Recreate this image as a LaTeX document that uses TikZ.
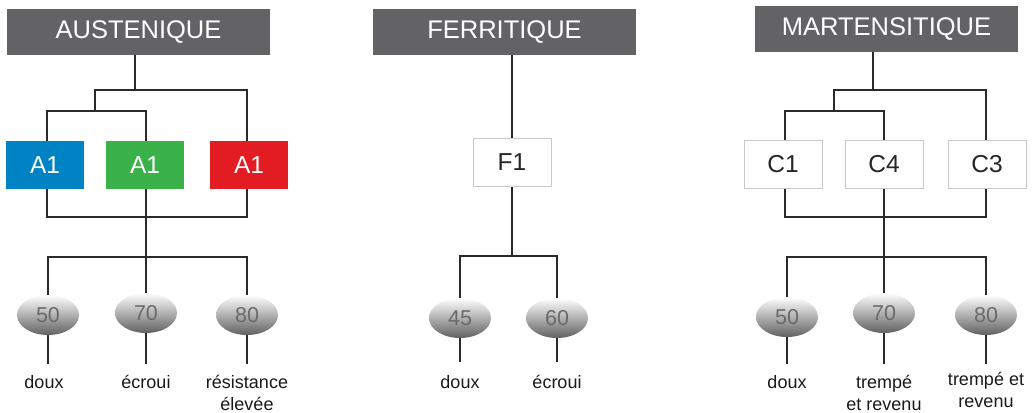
\documentclass[tikz,border=0pt]{standalone}
\usepackage{fontspec}
\setmainfont{Liberation Sans}
\usetikzlibrary{shapes.geometric}
\definecolor{hdr}{HTML}{636264}
\definecolor{blu}{HTML}{0083C4}
\definecolor{grn}{HTML}{3BB14A}
\definecolor{rd}{HTML}{E31B23}
\definecolor{bord}{HTML}{C8C8C8}
\definecolor{ln}{HTML}{2A2A2A}
\definecolor{num}{HTML}{6A6A6A}
\begin{document}
\begin{tikzpicture}[x=1pt,y=-1pt,
  header/.style={fill=hdr,draw=none,minimum width=263pt,minimum height=46pt,inner sep=0pt,text=white,font=\fontsize{25.5}{30}\selectfont},
  cbox/.style={minimum width=78pt,minimum height=48pt,inner sep=0pt,font=\fontsize{24.5}{28}\selectfont},
  wbox/.style={cbox,fill=white,draw=bord,line width=1pt,text=black!85},
  grade/.style={ellipse,minimum width=62pt,minimum height=40pt,inner sep=0pt,top color=white,middle color=black!15,bottom color=black!62,draw=none,text=num,font=\fontsize{21.5}{24}\selectfont},
  lbl/.style={anchor=base,align=center,font=\fontsize{18}{22}\selectfont,text=black!90},
  conn/.style={draw=ln,line width=1.4pt}]
\useasboundingbox (0,0) rectangle (1035,412);

% ---------- AUSTENIQUE ----------
\node[header] (hA) at (138.5,32) {AUSTENIQUE};
\node[cbox,fill=blu,text=white] (a1) at (45,165) {A1};
\node[cbox,fill=grn,text=white] (a2) at (145,165) {A1};
\node[cbox,fill=rd,text=white] (a3) at (249,165) {A1};
\coordinate (jA1) at (135,90);
\coordinate (jA2) at (95,111);
\coordinate (kA) at (146,217);
\coordinate (lA) at (146,257);
\node[grade] (ea1) at (48,315) {50};
\node[grade] (ea2) at (146,313) {70};
\node[grade] (ea3) at (247,315) {80};
\coordinate (ta1) at (48,364);
\coordinate (ta2) at (146,364);
\coordinate (ta3) at (247,364);
\node[lbl] (la1) at (44,388) {doux};
\node[lbl] (la2) at (146,388) {écroui};
\node[lbl] (la3) at (247,410) {résistance\\élevée};

\draw[conn] (hA.south -| jA1) -- (jA1);
\draw[conn] (a1.north -| 47,0) |- (jA2) -| (a2.north -| 146,0);
\draw[conn] (jA2) |- (jA1) -| (a3.north -| 247,0);
\draw[conn] (a1.south -| 47,0) |- (kA) -| (a3.south -| 247,0);
\draw[conn] (a2.south -| kA) -- (lA);
\draw[conn] (ea1.north) |- (lA) -| (ea3.north);
\draw[conn] (ea2.north) -- (lA);
\draw[conn] (ea1.south) -- (ta1);
\draw[conn] (ea2.south) -- (ta2);
\draw[conn] (ea3.south) -- (ta3);

% ---------- FERRITIQUE ----------
\node[header] (hF) at (504.5,32) {FERRITIQUE};
\node[wbox] (f1) at (512,162.5) {F1};
\coordinate (lF) at (512,256);
\node[grade] (ef1) at (460,318) {45};
\node[grade] (ef2) at (557,318) {60};
\coordinate (tf1) at (460,362);
\coordinate (tf2) at (557,362);
\node[lbl] (lf1) at (460,388) {doux};
\node[lbl] (lf2) at (557,388) {écroui};

\draw[conn] (hF.south -| f1) -- (f1.north);
\draw[conn] (f1.south) -- (lF);
\draw[conn] (ef1.north) |- (lF) -| (ef2.north);
\draw[conn] (ef1.south) -- (tf1);
\draw[conn] (ef2.south) -- (tf2);

% ---------- MARTENSITIQUE ----------
\node[header] (hM) at (886.5,29) {MARTENSITIQUE};
\node[wbox] (c1) at (783,164) {C1};
\node[wbox] (c4) at (884,164) {C4};
\node[wbox] (c3) at (987,164) {C3};
\coordinate (jM1) at (873,90);
\coordinate (jM2) at (834,111);
\coordinate (kM) at (884,217);
\coordinate (lM) at (884,257);
\node[grade] (em1) at (787,317) {50};
\node[grade] (em2) at (884,313) {70};
\node[grade] (em3) at (986,315) {80};
\coordinate (tm1) at (787,364);
\coordinate (tm2) at (884,364);
\coordinate (tm3) at (986,364);
\node[lbl] (lm1) at (787,388) {doux};
\node[lbl] (lm2) at (884,410) {trempé\\et revenu};
\node[lbl] (lm3) at (986,407) {trempé et\\revenu};

\draw[conn] (hM.south -| jM1) -- (jM1);
\draw[conn] (c1.north -| 785,0) |- (jM2) -| (c4.north);
\draw[conn] (jM2) |- (jM1) -| (c3.north -| 986,0);
\draw[conn] (c1.south -| 785,0) |- (kM) -| (c3.south -| 986,0);
\draw[conn] (c4.south) -- (lM);
\draw[conn] (em1.north) |- (lM) -| (em3.north);
\draw[conn] (em2.north) -- (lM);
\draw[conn] (em1.south) -- (tm1);
\draw[conn] (em2.south) -- (tm2);
\draw[conn] (em3.south) -- (tm3);
\end{tikzpicture}
\end{document}
